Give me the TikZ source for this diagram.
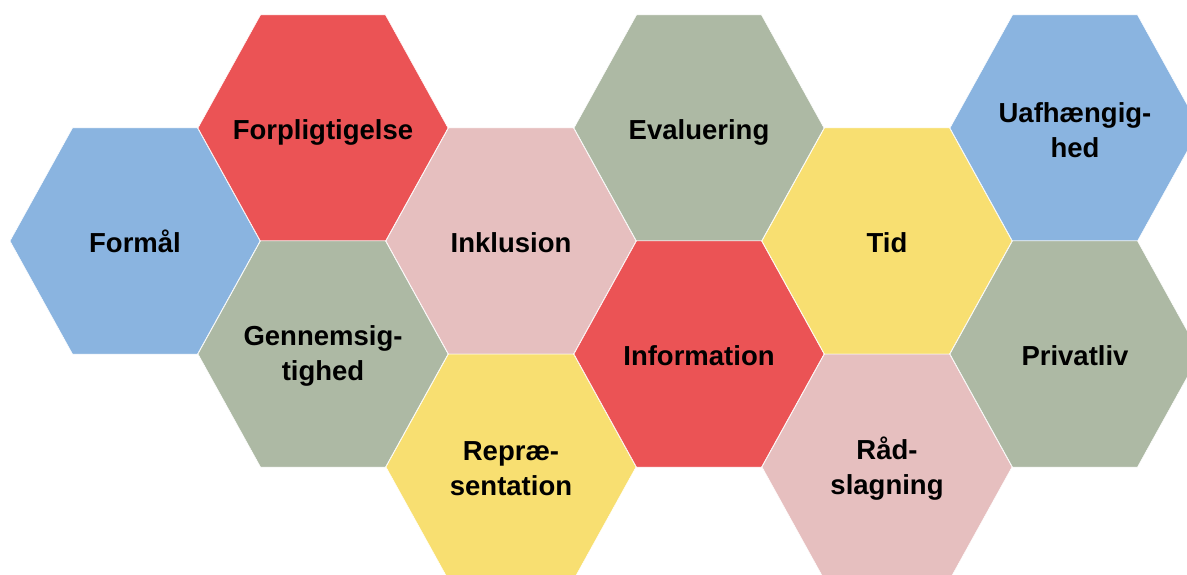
\documentclass[tikz,border=0pt]{standalone}
\usepackage{fontspec}
\setmainfont{Liberation Sans}
\definecolor{hexblue}{HTML}{8AB4E0}
\definecolor{hexred}{HTML}{EB5355}
\definecolor{hexpink}{HTML}{E6BFBF}
\definecolor{hexgreen}{HTML}{ADB9A4}
\definecolor{hexyellow}{HTML}{F8DF71}
\tikzset{
  hexfill/.style={fill=#1, draw=white, line width=0.5pt},
  hexlabel/.style={font=\bfseries\fontsize{27.5}{35}\selectfont, align=center, text=black, inner sep=0pt, yshift=-1.8pt},
  oneline/.style={text height=19.7pt, text depth=0pt}
}
\newcommand\hexcell[5]{%
  \fill[hexfill=#3] ({#1-125},{574-#2}) -- ++(62.5,113) -- ++(125,0) -- ++(62.5,-113) -- ++(-62.5,-113) -- ++(-125,0) -- cycle;
  \node[hexlabel,#5] (#4) at ({#1},{574-#2}) {\csname txt#4\endcsname};
}
\newcommand\txtformaal{Formål}
\newcommand\txtforpl{Forpligtigelse}
\newcommand\txtgennem{Gennemsig-\\tighed}
\newcommand\txtinkl{Inklusion}
\newcommand\txtrepr{Repræ-\\sentation}
\newcommand\txteval{Evaluering}
\newcommand\txtinfo{Information}
\newcommand\txttid{Tid}
\newcommand\txtraad{Råd-\\slagning}
\newcommand\txtuafh{Uafhængig-\\hed}
\newcommand\txtpriv{Privatliv}
\begin{document}
\begin{tikzpicture}[x=1pt,y=1pt]
\useasboundingbox (0,0) rectangle (1187,574);
\clip (0,0) rectangle (1187,574);
\hexcell{135}{241}{hexblue}{formaal}{oneline}
\hexcell{323}{128}{hexred}{forpl}{oneline}
\hexcell{323}{354}{hexgreen}{gennem}{}
\hexcell{511}{241}{hexpink}{inkl}{oneline}
\hexcell{511}{467}{hexyellow}{repr}{}
\hexcell{699}{128}{hexgreen}{eval}{oneline}
\hexcell{699}{354}{hexred}{info}{oneline}
\hexcell{887}{241}{hexyellow}{tid}{oneline}
\hexcell{887}{467}{hexpink}{raad}{}
\hexcell{1075}{128}{hexblue}{uafh}{}
\hexcell{1075}{354}{hexgreen}{priv}{oneline}
\end{tikzpicture}
\end{document}
